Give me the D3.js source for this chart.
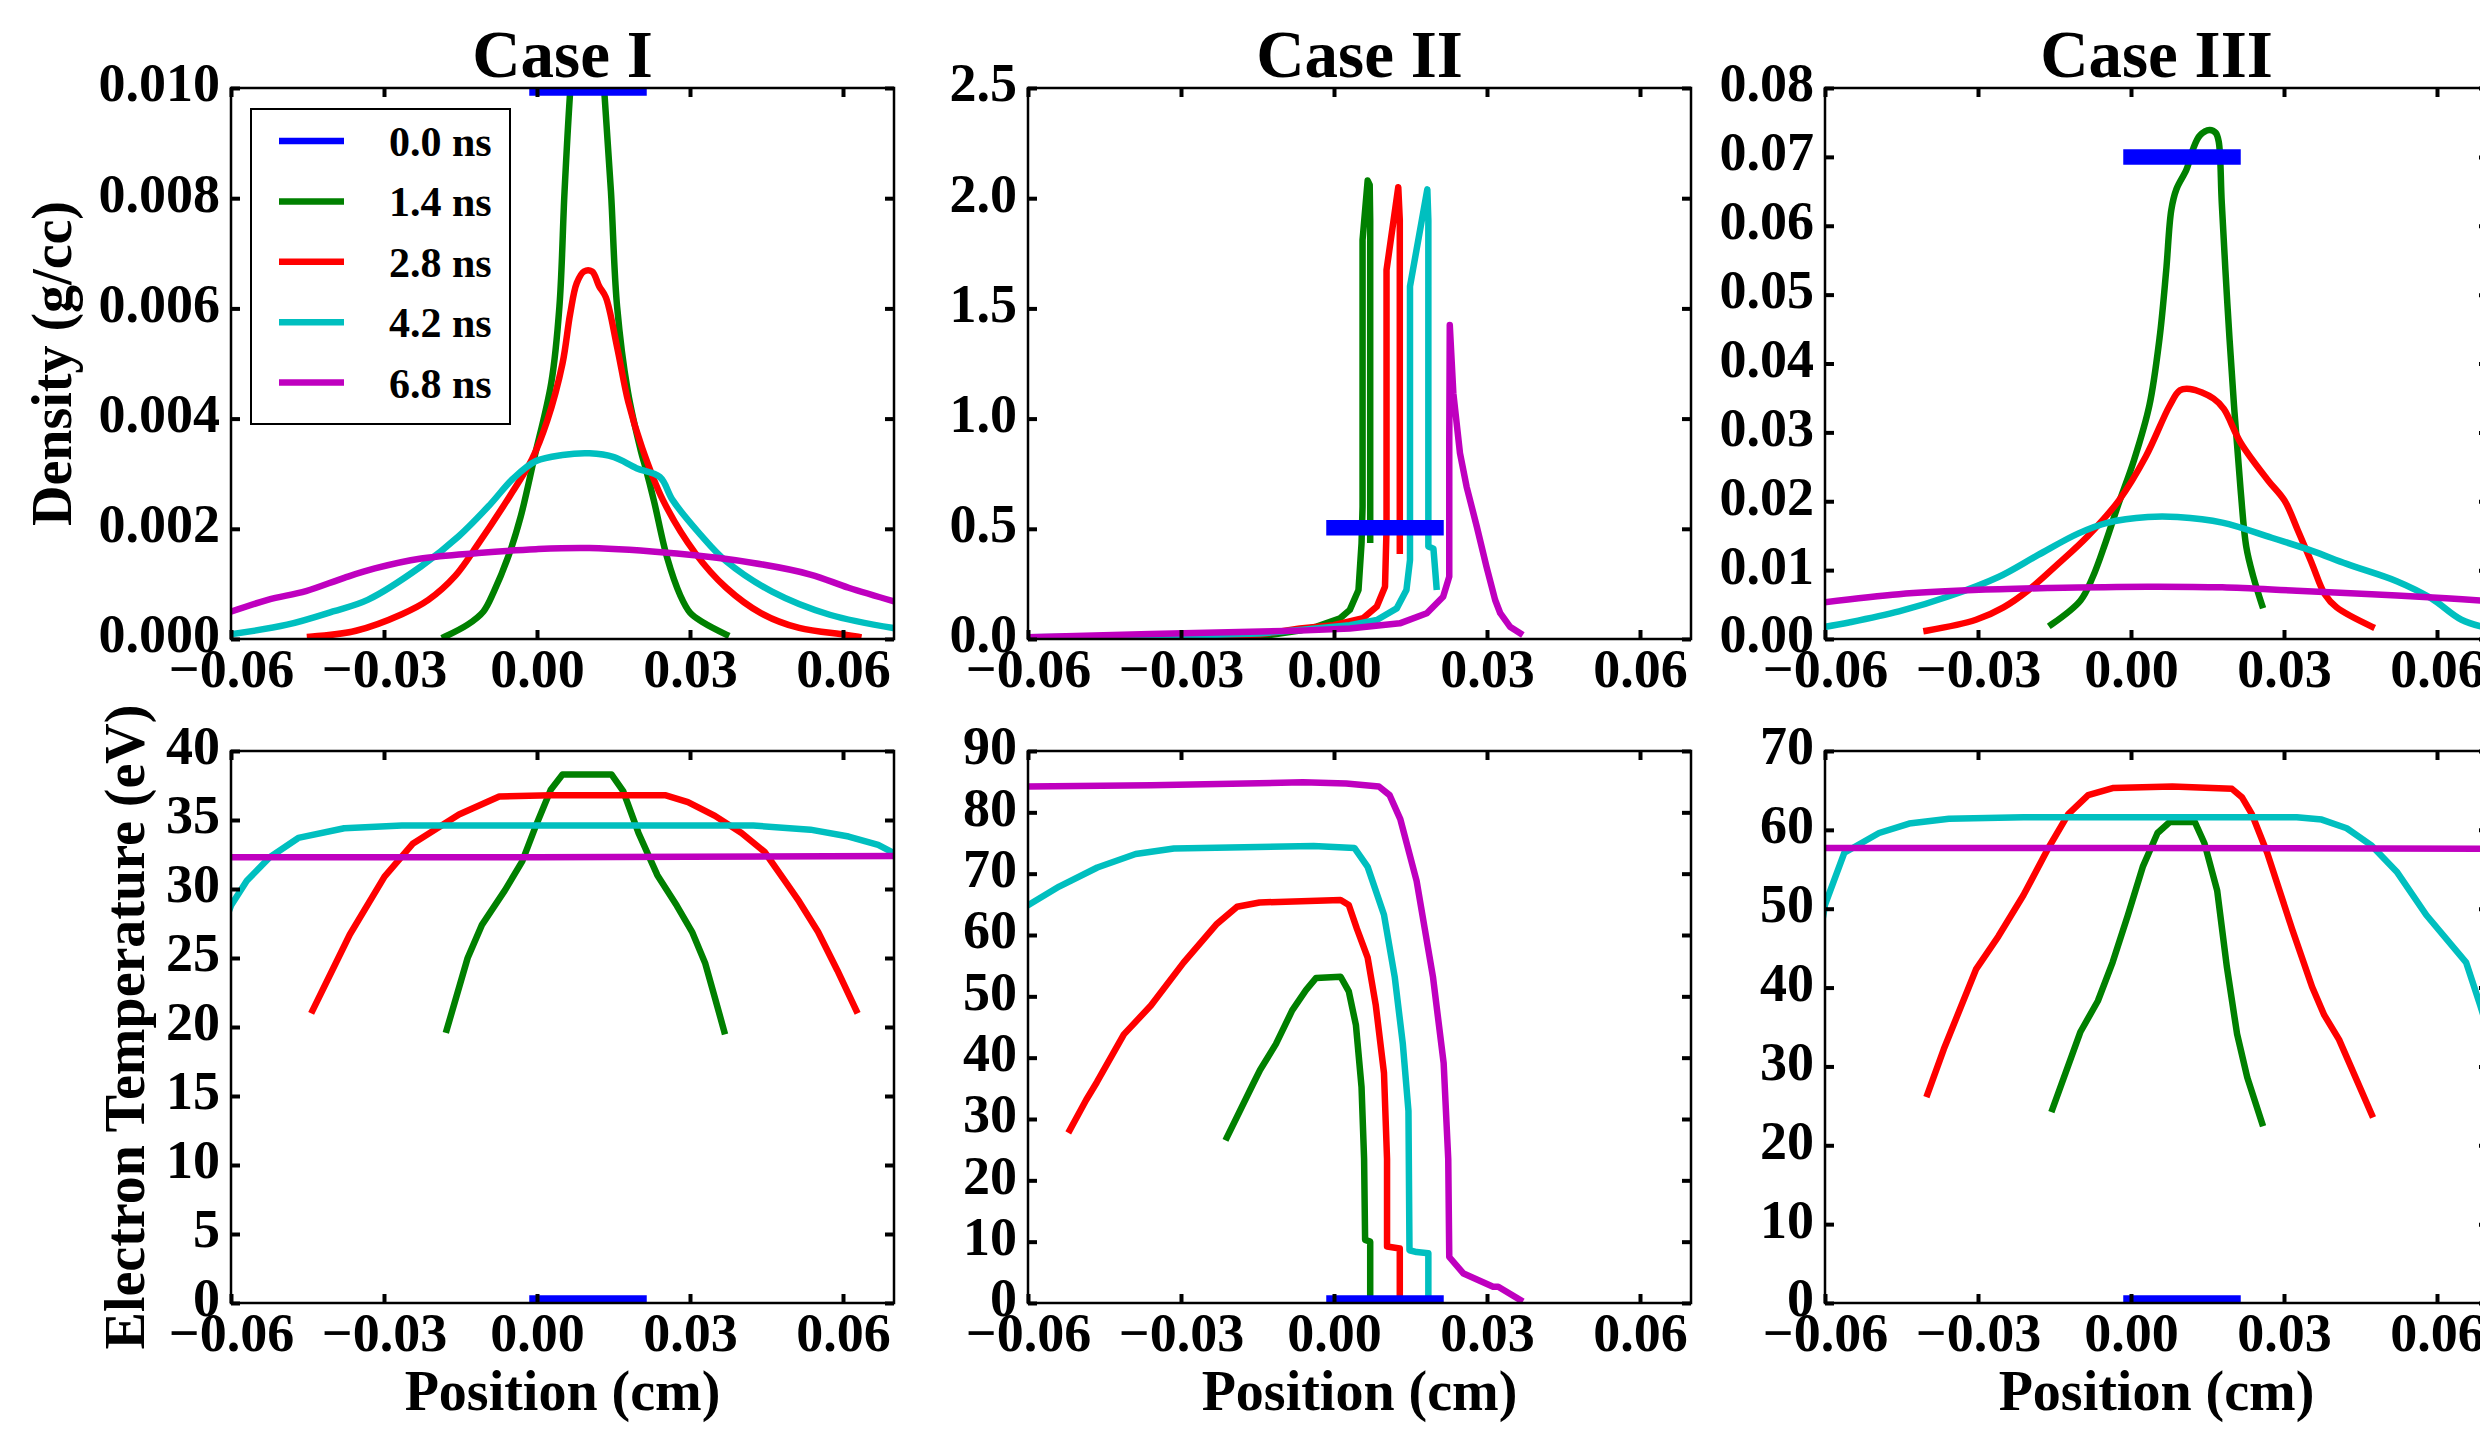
<!DOCTYPE html>
<html>
<head>
<meta charset="utf-8">
<script src="https://cdn.jsdelivr.net/npm/d3@7"></script>
<style>
  body { margin: 0; background: #fff; }
  svg text { font-family: "Liberation Serif", "Times New Roman", serif; font-weight: bold; fill: #000; }
</style>
</head>
<body>
<div id="chart"></div>
<script>
// density / temperature profiles, [position (cm), value]
const times = ['0.0 ns', '1.4 ns', '2.8 ns', '4.2 ns', '6.8 ns']
const cases = ['Case I', 'Case II', 'Case III']
const xTicks = [-0.06, -0.03, 0, 0.03, 0.06]

// Case I density (g/cc)
const rho1_00 = [[0, 0.01], [0.02, 0.01]]
const rho1_14 = [[-0.0181, 0.00004], [-0.0136, 0.00026], [-0.0105, 0.0005], [-0.0085, 0.00085], [-0.0055, 0.00153], [-0.0032, 0.00222], [-0.0006, 0.00326], [0.0028, 0.00465], [0.0044, 0.00604], [0.0054, 0.00812], [0.0065, 0.00993], [0.0078, 0.0115], [0.0098, 0.0122], [0.0118, 0.0115], [0.0132, 0.00993], [0.0145, 0.00812], [0.0157, 0.00604], [0.0178, 0.0045], [0.0204, 0.0034], [0.0213, 0.0031], [0.0229, 0.00252], [0.0255, 0.00148], [0.0281, 0.00079], [0.0300, 0.00048], [0.0326, 0.0003], [0.0371, 0.00008]]
const rho1_28 = [[-0.0445, 0.00004], [-0.0355, 0.00015], [-0.0265, 0.00045], [-0.0213, 0.00071], [-0.0160, 0.00115], [-0.0115, 0.00173], [-0.0055, 0.00257], [-0.001, 0.00326], [0.002, 0.00396], [0.005, 0.005], [0.0065, 0.0059], [0.0078, 0.00646], [0.0092, 0.00667], [0.0108, 0.00667], [0.0122, 0.0064], [0.0135, 0.0062], [0.0157, 0.0053], [0.0179, 0.0043], [0.0205, 0.0035], [0.0247, 0.00252], [0.0311, 0.00155], [0.0371, 0.00093], [0.0439, 0.00047], [0.0514, 0.0002], [0.0604, 0.00008], [0.063, 0.00004]]
const rho1_42 = [[-0.0605, 0.00008], [-0.049, 0.00026], [-0.040, 0.0005], [-0.0332, 0.00071], [-0.0227, 0.00132], [-0.0153, 0.00187], [-0.0093, 0.00243], [-0.0047, 0.00291], [-0.0002, 0.00323], [0.005, 0.00334], [0.0103, 0.00337], [0.0151, 0.0033], [0.0195, 0.0031], [0.0241, 0.00294], [0.0266, 0.00252], [0.0320, 0.0019], [0.0371, 0.00141], [0.0461, 0.00086], [0.0574, 0.00044], [0.0705, 0.00019]]
const rho1_68 = [[-0.0605, 0.00048], [-0.0528, 0.00071], [-0.0453, 0.00087], [-0.0378, 0.00111], [-0.0318, 0.00128], [-0.0227, 0.00146], [-0.0115, 0.00156], [-0.0002, 0.00163], [0.0103, 0.00165], [0.0274, 0.00155], [0.0424, 0.00138], [0.0536, 0.00117], [0.0611, 0.00093], [0.0705, 0.00067]]

// Case II density (g/cc)
const rho2_00 = [[0, 0.505], [0.02, 0.505]]
const rho2_14 = [[-0.021, 0.004], [-0.0146, 0.012], [-0.0067, 0.038], [-0.0034, 0.056], [0.0012, 0.094], [0.0031, 0.132], [0.0048, 0.222], [0.0054, 0.434], [0.0056, 0.6], [0.0056, 1.81], [0.0066, 2.08], [0.0070, 2.06], [0.0071, 1.9], [0.0071, 0.45]]
const rho2_28 = [[-0.052, 0.006], [-0.03, 0.013], [-0.0146, 0.02], [-0.0067, 0.048], [-0.0001, 0.063], [0.0057, 0.094], [0.0084, 0.147], [0.0100, 0.237], [0.0103, 0.5], [0.0103, 1.674], [0.0126, 2.05], [0.0129, 1.9], [0.0129, 0.40]]
const rho2_42 = [[-0.0605, 0.008], [-0.03, 0.015], [-0.0146, 0.025], [-0.0067, 0.041], [0.0031, 0.063], [0.0084, 0.086], [0.0123, 0.139], [0.0142, 0.222], [0.0149, 0.358], [0.0149, 1.60], [0.0183, 2.04], [0.0185, 1.9], [0.0185, 0.42], [0.0195, 0.41], [0.0201, 0.237]]
const rho2_68 = [[-0.0605, 0.008], [-0.036, 0.023], [-0.0067, 0.038], [0.0031, 0.048], [0.0129, 0.071], [0.0182, 0.117], [0.0214, 0.192], [0.0226, 0.283], [0.0226, 0.9], [0.0227, 1.425], [0.0234, 1.115], [0.0247, 0.843], [0.026, 0.691], [0.028, 0.51], [0.0299, 0.328], [0.0316, 0.177], [0.0326, 0.117], [0.0345, 0.056], [0.0365, 0.026]]

// Case III density (g/cc)
const rho3_00 = [[0, 0.07], [0.02, 0.07]]
const rho3_14 = [[-0.0156, 0.0021], [-0.0099, 0.0056], [-0.0075, 0.009], [-0.0050, 0.0140], [-0.0025, 0.0195], [0.0006, 0.0260], [0.0036, 0.0339], [0.0056, 0.0437], [0.0069, 0.0535], [0.0079, 0.0623], [0.0089, 0.0653], [0.0109, 0.0682], [0.0122, 0.0712], [0.0135, 0.0731], [0.0154, 0.0739], [0.0166, 0.0735], [0.0172, 0.0722], [0.0178, 0.0633], [0.0189, 0.0486], [0.0202, 0.0339], [0.0215, 0.0216], [0.0226, 0.0134], [0.0240, 0.0090], [0.0257, 0.0049]]
const rho3_28 = [[-0.0401, 0.0012], [-0.0304, 0.0028], [-0.025, 0.0046], [-0.0201, 0.0071], [-0.0143, 0.0109], [-0.0084, 0.0150], [-0.0024, 0.0201], [0.0029, 0.0265], [0.0076, 0.0339], [0.0096, 0.0361], [0.0116, 0.0363], [0.0162, 0.0349], [0.0182, 0.0334], [0.0215, 0.0285], [0.0268, 0.0231], [0.0301, 0.0201], [0.0327, 0.0158], [0.0355, 0.0109], [0.0380, 0.0065], [0.0403, 0.0046], [0.0472, 0.0018]]
const rho3_42 = [[-0.0605, 0.0017], [-0.0553, 0.0024], [-0.0455, 0.004], [-0.0357, 0.0062], [-0.026, 0.009], [-0.0182, 0.0122], [-0.0104, 0.0153], [-0.0045, 0.0169], [0.0033, 0.0177], [0.0091, 0.0177], [0.0179, 0.0169], [0.0276, 0.0147], [0.0355, 0.0128], [0.0423, 0.0109], [0.0521, 0.0084], [0.0589, 0.0059], [0.0648, 0.0028], [0.0705, 0.0015]]
const rho3_68 = [[-0.0605, 0.0053], [-0.0455, 0.0065], [-0.0309, 0.0071], [-0.0162, 0.0074], [0.0033, 0.0076], [0.0179, 0.0075], [0.0325, 0.007], [0.0472, 0.0065], [0.0618, 0.0059], [0.0705, 0.0055]]

// Case I electron temperature (eV)
const te1_00 = [[0, 0], [0.02, 0]]
const te1_14 = [[-0.0177, 19.8], [-0.0136, 25.0], [-0.0108, 27.4], [-0.0063, 29.9], [-0.0029, 32.0], [-0.0001, 34.7], [0.0027, 37.2], [0.0050, 38.3], [0.0146, 38.3], [0.0169, 37.1], [0.0199, 34.06], [0.0236, 31.0], [0.0274, 28.8], [0.0304, 26.9], [0.033, 24.6], [0.0349, 22.1], [0.0367, 19.7]]
const te1_28 = [[-0.044, 21.2], [-0.0367, 26.7], [-0.0299, 30.9], [-0.0243, 33.3], [-0.0153, 35.4], [-0.0074, 36.7], [0.0027, 36.8], [0.0251, 36.8], [0.0296, 36.3], [0.0349, 35.3], [0.0401, 34.06], [0.0446, 32.7], [0.0484, 30.7], [0.0514, 29.1], [0.0551, 26.9], [0.0589, 24.1], [0.0626, 21.2]]
const te1_42 = [[-0.0605, 28.3], [-0.06, 28.8], [-0.0569, 30.6], [-0.0524, 32.3], [-0.0468, 33.7], [-0.0378, 34.4], [-0.0265, 34.6], [0.0424, 34.6], [0.0536, 34.3], [0.0611, 33.8], [0.0669, 33.2], [0.0705, 32.5]]
const te1_68 = [[-0.0605, 32.3], [0, 32.3], [0.0705, 32.4]]

// Case II electron temperature (eV)
const te2_00 = [[0, 0], [0.02, 0]]
const te2_14 = [[-0.0210, 27.0], [-0.0157, 36.0], [-0.0145, 38.0], [-0.0114, 42.2], [-0.0082, 47.7], [-0.0055, 51.0], [-0.0035, 53.0], [0.0013, 53.2], [0.0029, 50.8], [0.0043, 45.3], [0.0054, 35.2], [0.0059, 23.5], [0.0061, 10.3], [0.0071, 10.0], [0.0071, 0.5]]
const te2_28 = [[-0.0518, 28.2], [-0.0486, 33.1], [-0.0465, 36.0], [-0.0412, 43.8], [-0.0359, 48.5], [-0.0295, 55.5], [-0.0231, 61.7], [-0.019, 64.6], [-0.0146, 65.3], [0.0013, 65.7], [0.0029, 64.9], [0.0045, 61.0], [0.0066, 56.3], [0.0082, 48.5], [0.0098, 37.5], [0.0104, 23.5], [0.0104, 9.2], [0.0129, 8.9], [0.0129, 0.5]]
const te2_42 = [[-0.0605, 64.6], [-0.0539, 67.9], [-0.0464, 71.0], [-0.0389, 73.2], [-0.0314, 74.1], [-0.004, 74.5], [0.004, 74.2], [0.0066, 71.1], [0.0098, 63.3], [0.0119, 53.2], [0.0135, 42.2], [0.0146, 31.3], [0.0148, 8.6], [0.0162, 8.3], [0.0185, 8.1], [0.0185, 0.5]]
const te2_68 = [[-0.0605, 84.2], [-0.0359, 84.4], [-0.0061, 84.9], [0.0024, 84.7], [0.0088, 84.2], [0.0109, 82.8], [0.013, 78.9], [0.0162, 68.8], [0.0194, 53.2], [0.0215, 39.1], [0.0224, 23.5], [0.0226, 7.5], [0.0254, 4.8], [0.0312, 2.66], [0.0322, 2.66], [0.0365, 0.5]]

// Case III electron temperature (eV)
const te3_00 = [[0, 0], [0.02, 0]]
const te3_14 = [[-0.0154, 24.6], [-0.0099, 34.4], [-0.0065, 38.3], [-0.0036, 43.2], [-0.0006, 49.2], [0.0023, 55.3], [0.0052, 59.6], [0.0076, 61.0], [0.0125, 61.0], [0.0144, 58.3], [0.0169, 52.3], [0.0188, 42.6], [0.0208, 34.1], [0.0228, 28.6], [0.0257, 22.8]]
const te3_28 = [[-0.0399, 26.5], [-0.0367, 32.2], [-0.0304, 42.3], [-0.026, 46.5], [-0.0211, 51.7], [-0.0162, 57.7], [-0.0123, 62.0], [-0.0084, 64.4], [-0.0036, 65.3], [0.0081, 65.5], [0.0198, 65.2], [0.0218, 64.1], [0.0237, 62.0], [0.0267, 57.1], [0.0316, 47.4], [0.0355, 40.1], [0.0379, 36.5], [0.0408, 33.4], [0.0472, 23.9]]
const te3_42 = [[-0.0605, 48.5], [-0.06, 50.5], [-0.0562, 57.1], [-0.0494, 59.6], [-0.0435, 60.8], [-0.0357, 61.4], [-0.0211, 61.6], [0.0325, 61.6], [0.0374, 61.3], [0.0423, 60.2], [0.0472, 58.0], [0.0521, 54.7], [0.0579, 49.2], [0.0657, 43.2], [0.0685, 37.7], [0.0705, 33.5]]
const te3_68 = [[-0.0605, 57.7], [0, 57.7], [0.0705, 57.6]]

// axis ranges and ticks
const rhoTicks1 = [0, 0.002, 0.004, 0.006, 0.008, 0.010]
const rhoTicks2 = [0, 0.5, 1.0, 1.5, 2.0, 2.5]
const rhoTicks3 = [0, 0.01, 0.02, 0.03, 0.04, 0.05, 0.06, 0.07, 0.08]
const teTicks1 = [0, 5, 10, 15, 20, 25, 30, 35, 40]
const teTicks2 = [0, 10, 20, 30, 40, 50, 60, 70, 80, 90]
const teTicks3 = [0, 10, 20, 30, 40, 50, 60, 70]

const colors = ['#0000ff', '#008000', '#ff0000', '#00bfbf', '#bf00bf']

const width = 2480
const height = 1431
const colLeft = [231, 1028, 1825]
const rowTop = [88, 751]
const pw = 663
const ph = [551, 552]

const svg = d3.select('#chart').append('svg')
    .attr('width', width)
    .attr('height', height)
    .attr('viewBox', [0, 0, width, height])

// smooth: density profiles of case I and III are smooth curves in the original
const panels = [
    { col: 0, row: 0, domain: [0, 0.01], ticks: rhoTicks1, fmt: '.3f', smooth: true, series: [rho1_00, rho1_14, rho1_28, rho1_42, rho1_68] },
    { col: 1, row: 0, domain: [0, 2.5], ticks: rhoTicks2, fmt: '.1f', smooth: false, series: [rho2_00, rho2_14, rho2_28, rho2_42, rho2_68] },
    { col: 2, row: 0, domain: [0, 0.08], ticks: rhoTicks3, fmt: '.2f', smooth: true, series: [rho3_00, rho3_14, rho3_28, rho3_42, rho3_68] },
    { col: 0, row: 1, domain: [0, 40], ticks: teTicks1, fmt: 'd', smooth: false, series: [te1_00, te1_14, te1_28, te1_42, te1_68] },
    { col: 1, row: 1, domain: [0, 90], ticks: teTicks2, fmt: 'd', smooth: false, series: [te2_00, te2_14, te2_28, te2_42, te2_68] },
    { col: 2, row: 1, domain: [0, 70], ticks: teTicks3, fmt: 'd', smooth: false, series: [te3_00, te3_14, te3_28, te3_42, te3_68] }
]

panels.forEach((p, i) => {
    const h = ph[p.row]
    const g = svg.append('g')
        .attr('transform', `translate(${colLeft[p.col]},${rowTop[p.row]})`)

    const x = d3.scaleLinear().domain([-0.06, 0.07]).range([0, pw])
    const y = d3.scaleLinear().domain(p.domain).range([h, 0])

    g.append('clipPath').attr('id', 'clip' + i)
        .append('rect').attr('width', pw).attr('height', h)

    const line = d3.line()
        .x(d => x(d[0])).y(d => y(d[1]))
        .curve(p.smooth ? d3.curveCatmullRom.alpha(0.5) : d3.curveLinear)
    const plot = g.append('g').attr('clip-path', `url(#clip${i})`)

    // later times first, the initial slab (blue) sits on top
    const order = [1, 2, 3, 4, 0]
    order.forEach(k => {
        plot.append('path')
            .datum(p.series[k])
            .attr('d', line)
            .attr('fill', 'none')
            .attr('stroke', colors[k])
            .attr('stroke-width', k === 0 ? 15.5 : 6.5)
            .attr('stroke-linecap', 'square')
            .attr('stroke-linejoin', 'round')
    })

    // axes: ticks pointing inward on every side
    g.append('g').attr('transform', `translate(0,${h})`)
        .call(d3.axisBottom(x).tickValues(xTicks).tickSize(-9).tickSizeOuter(0)
            .tickPadding(10).tickFormat(d3.format('.2f')))
    const left = g.append('g')
        .call(d3.axisLeft(y).tickValues(p.ticks).tickSize(-9).tickSizeOuter(0)
            .tickPadding(11).tickFormat(d3.format(p.fmt)))
    g.append('g')
        .call(d3.axisTop(x).tickValues(xTicks).tickSize(-9).tickSizeOuter(0).tickFormat(''))
    g.append('g').attr('transform', `translate(${pw},0)`)
        .call(d3.axisRight(y).tickValues(p.ticks).tickSize(-9).tickSizeOuter(0).tickFormat(''))

    g.selectAll('.domain').remove()
    g.selectAll('.tick line').attr('stroke', '#000').attr('stroke-width', 4)
    g.selectAll('.tick text').style('font-size', '54px')
    left.selectAll('.tick text').attr('dy', '0.24em')

    g.append('rect')
        .attr('width', pw).attr('height', h)
        .attr('fill', 'none').attr('stroke', '#000').attr('stroke-width', 2.5)

    if (p.row === 0) {
        g.append('text')
            .attr('x', pw / 2).attr('y', -11)
            .attr('text-anchor', 'middle')
            .style('font-size', '67px')
            .text(cases[p.col])
    } else {
        g.append('text')
            .attr('x', pw / 2).attr('y', h + 107)
            .attr('text-anchor', 'middle')
            .style('font-size', '56px')
            .text('Position (cm)')
    }
})

// y axis titles
svg.append('text')
    .attr('transform', `translate(71,${rowTop[0] + ph[0] / 2}) rotate(-90)`)
    .attr('text-anchor', 'middle')
    .style('font-size', '56px')
    .text('Density (g/cc)')

svg.append('text')
    .attr('transform', `translate(144,${rowTop[1] + ph[1] / 2}) rotate(-90)`)
    .attr('text-anchor', 'middle')
    .style('font-size', '56px')
    .text('Electron Temperature (eV)')

// legend in the first panel
const legend = svg.append('g').attr('transform', 'translate(251,109)')
legend.append('rect')
    .attr('width', 259).attr('height', 315)
    .attr('fill', '#fff').attr('stroke', '#000').attr('stroke-width', 2)

times.forEach((t, k) => {
    const cy = 32 + k * 60.4
    legend.append('line')
        .attr('x1', 28).attr('x2', 93)
        .attr('y1', cy).attr('y2', cy)
        .attr('stroke', colors[k]).attr('stroke-width', 6.5)
    legend.append('text')
        .attr('x', 138).attr('y', cy + 15)
        .style('font-size', '42px')
        .text(t)
})
</script>
</body>
</html>
